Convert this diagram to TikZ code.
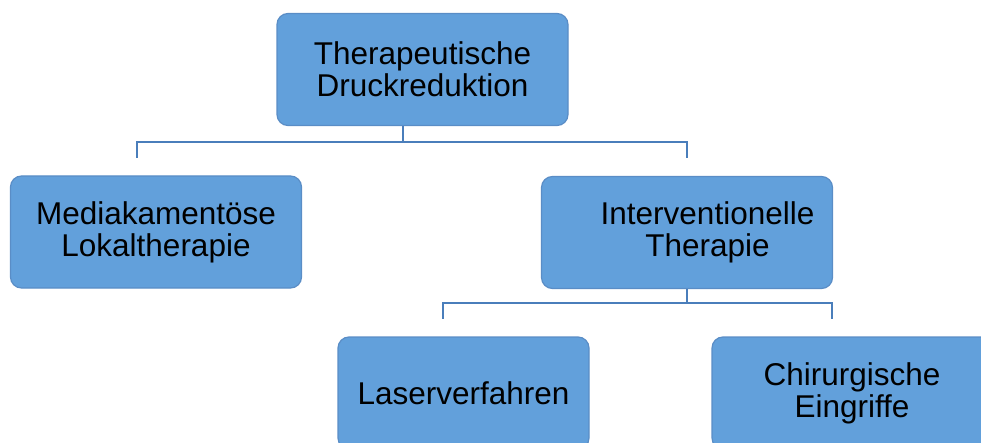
\documentclass[tikz,border=0pt]{standalone}
\usepackage{fontspec}
\setmainfont{Liberation Sans}
\definecolor{boxfill}{HTML}{62A0DB}
\definecolor{boxline}{HTML}{5A8DC6}
\definecolor{connline}{HTML}{4A7EBB}
\begin{document}
\begin{tikzpicture}[x=1pt,y=-1pt,
  boxtext/.style={inner sep=0pt, align=center,
    font=\fontsize{31.5}{32}\selectfont, text=black},
  box/.style={boxtext, draw=boxline, line width=1.2pt, fill=boxfill, rounded corners=11pt,
    minimum width=291pt, minimum height=112pt},
  conn/.style={draw=connline, line width=2pt}]
\useasboundingbox (0,0) rectangle (981,443);
\clip (0,0) rectangle (981,443);
\node[box] (top) at (422.5,69.5) {Therapeutische\\Druckreduktion};
\node[box] (med) at (156,232) {Mediakamentöse\\Lokaltherapie};
\node[box] (int) at (687,232.5) {};
\node[boxtext] (inttext) at (707.5,232.5) {Interventionelle\\Therapie};
\node[box, minimum width=251pt] (las) at (463.5,393) {Laserverfahren};
\node[box, minimum width=280pt] (chi) at (852,393) {Chirurgische\\Eingriffe};
\coordinate (j1) at (403,142);
\coordinate (e1) at (137,158);
\coordinate (e2) at (687,158);
\coordinate (j2) at (687,303);
\coordinate (e3) at (443,319);
\coordinate (e4) at (832,319);
\draw[conn] (top.south -| j1) -- (j1);
\draw[conn] (j1) -| (e1);
\draw[conn] (j1) -| (e2);
\draw[conn] (int.south) -- (j2);
\draw[conn] (j2) -| (e3);
\draw[conn] (j2) -| (e4);
\end{tikzpicture}
\end{document}
